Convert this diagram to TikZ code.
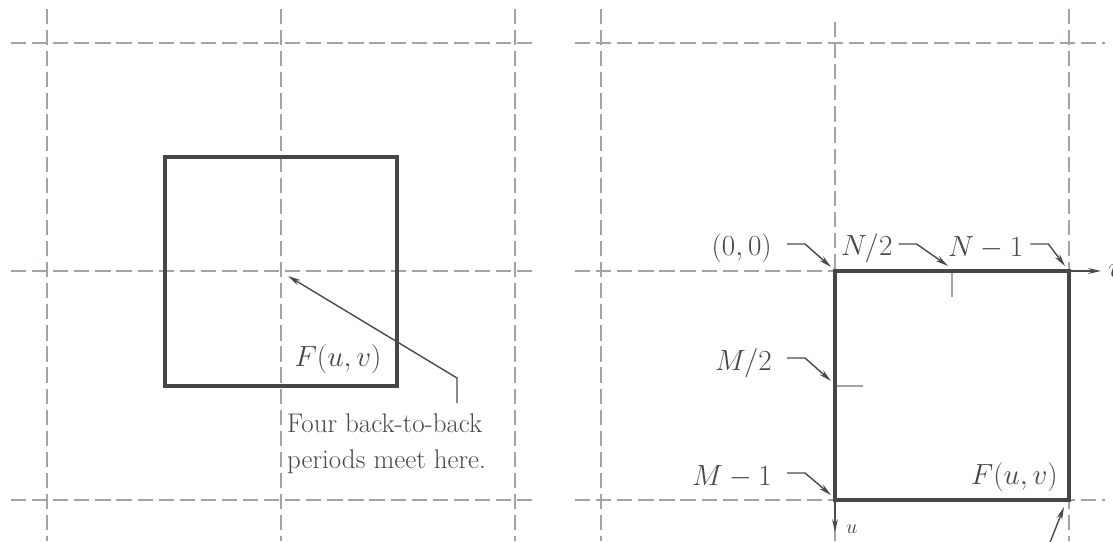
\documentclass[tikz,border=0pt]{standalone}
\usetikzlibrary{arrows.meta}
\definecolor{gridgray}{HTML}{A6A39E}
\definecolor{boxdark}{HTML}{4A4540}
\definecolor{leadgray}{HTML}{4F4A45}
\begin{document}
\begin{tikzpicture}[x=0.3mm,y=-0.3mm,>={Stealth[length=11pt,width=5pt]},
  period/.style={gridgray,line width=1.7pt,dash pattern=on 13pt off 5pt},
  box/.style={boxdark,line width=3.4pt},
  pointer/.style={leadgray,line width=1.2pt,->},
  axis/.style={leadgray,line width=1pt,->},
  tickmark/.style={gridgray,line width=1.3pt},
  lbl/.style={text=black!72,inner sep=0pt,font=\fontsize{25}{30}\selectfont},
  notelbl/.style={text=black!72,inner sep=0pt,font=\fontsize{23}{30}\selectfont},
  smalllbl/.style={text=black!72,inner sep=0pt,font=\fontsize{18}{22}\selectfont}]
  \useasboundingbox (0,0) rectangle (1113,541);
  % left: four periods meeting in the middle
  \foreach \x in {47,281,515}
    \draw[period] (\x,9) -- (\x,541);
  \foreach \y in {43,271,500}
    \draw[period] (11,\y) -- (537,\y);
  \draw[box] (165,157) rectangle (397,386);
  \coordinate (meet) at (288,276);
  \coordinate (elbow) at (457,378);
  \node[lbl] (fleft) at (338,359) {$F(u,v)$};
  \node[notelbl,anchor=north west,align=left] (note) at (287,414)
    {Four back-to-back\\periods meet here.};
  \draw[pointer] (note.north -| elbow) ++(0,-11) -- (elbow) -- (meet);
  % right: one full period
  \foreach \x in {601,1069}
    \draw[period] (\x,9) -- (\x,541);
  \draw[period] (835,22) -- (835,541);
  \draw[period] (575,43) -- (1105,43);
  \draw[period] (575,271) -- (835,271);
  \draw[period] (575,500) -- (1105,500);
  \coordinate (o) at (835,271);
  \coordinate (nhalf) at (952,271);
  \coordinate (nlast) at (1069,271);
  \coordinate (mhalf) at (835,386);
  \coordinate (mlast) at (835,500);
  \coordinate (corner) at (1069,500);
  \draw[tickmark] (nhalf) -- ++(0,26);
  \draw[tickmark] (mhalf) -- ++(28,0);
  \draw[box] (o) rectangle (corner);
  % axes
  \coordinate (vend) at (1101,271);
  \coordinate (uend) at (835,532);
  \draw[axis] (nlast) -- (vend);
  \draw[axis] (mlast) -- (uend);
  \node[lbl,anchor=west] (vlbl) at (1108,271) {$v$};
  \node[smalllbl,anchor=west] (ulbl) at (846,529) {$u$};
  % labels with pointers
  \node[lbl,anchor=east] (zero) at (772,248) {$(0,0)$};
  \node[lbl,anchor=west] (nh) at (841,248) {$N/2$};
  \node[lbl,anchor=west] (nl) at (948,248) {$N-1$};
  \node[lbl,anchor=east] (mh) at (772,363) {$M/2$};
  \node[lbl,anchor=east] (ml) at (772,477) {$M-1$};
  \node[lbl,anchor=east] (fright) at (1058,477) {$F(u,v)$};
  \draw[pointer] (zero.east) ++(15,-4) -- ++(18,0) -- ([shift={(-4,-4)}]o);
  \draw[pointer] (nh.east) ++(6,-4) -- ++(18,0) -- ([shift={(-4,-5)}]nhalf);
  \draw[pointer] (nl.east) ++(7,-4) -- ++(18,0) -- ([shift={(-4,-5)}]nlast);
  \draw[pointer] (mh.east) ++(15,-5) -- ++(18,0) -- ([shift={(-4,-5)}]mhalf);
  \draw[pointer] (ml.east) ++(15,-4) -- ++(18,0) -- ([shift={(-4,-5)}]mlast);
  \coordinate (tail) at (1047,550);
  \draw[pointer] (tail) -- ([shift={(-5,7)}]corner);
\end{tikzpicture}
\end{document}
